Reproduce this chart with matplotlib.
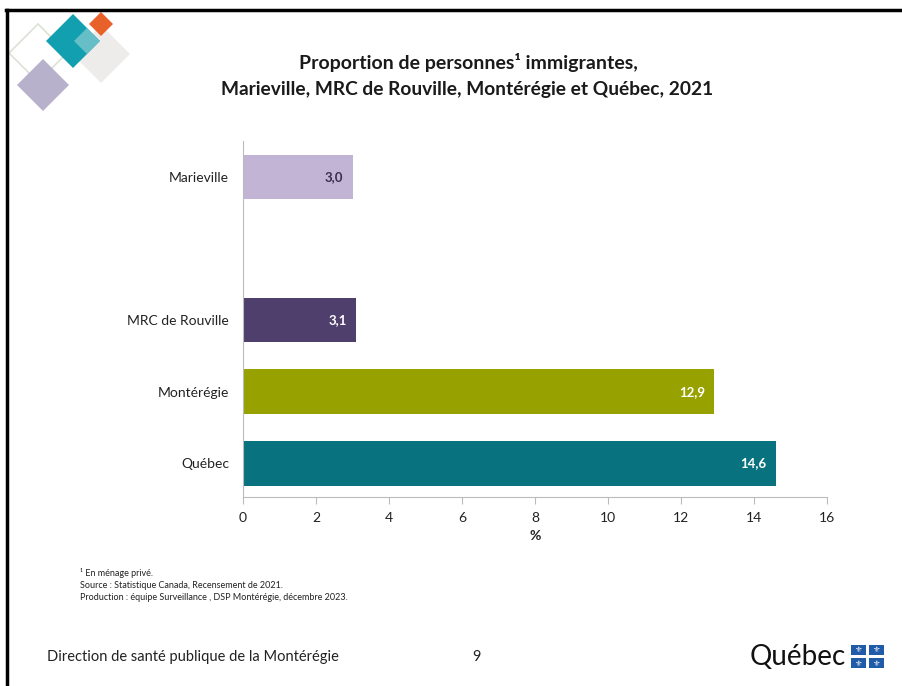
import matplotlib
matplotlib.use("Agg")
import matplotlib.pyplot as plt
from matplotlib.patches import Polygon, Rectangle

plt.rcParams['font.family'] = ['Lato', 'DejaVu Sans']

# data
regions = ["Québec", "Montérégie", "MRC de Rouville", "", "Marieville"]
values = [14.6, 12.9, 3.1, None, 3.0]
colors = ["#08737F", "#97A200", "#4F3F6C", None, "#C1B4D4"]
label_colors = ["white", "white", "white", None, "#3A2E50"]
xticks = [0, 2, 4, 6, 8, 10, 12, 14, 16]

W, H = 902, 686
fig = plt.figure(figsize=(W / 100, H / 100), dpi=100)
fig.patch.set_facecolor("white")


def fx(px):
    return px / W


def fy(py):
    return 1 - py / H


# slide border (top and left)
fig.add_artist(plt.Line2D([fx(6), 1], [fy(10), fy(10)], color="black", lw=2.5))
fig.add_artist(plt.Line2D([fx(7), fx(7)], [fy(10), 0], color="black", lw=2.5))


def diamond(cx, cy, hd, **kw):
    pts = [(fx(cx), fy(cy - hd)), (fx(cx + hd), fy(cy)),
           (fx(cx), fy(cy + hd)), (fx(cx - hd), fy(cy))]
    fig.add_artist(Polygon(pts, closed=True, transform=fig.transFigure, **kw))


# decorative logo top-left
diamond(38, 53, 29, fill=False, edgecolor="#DCE2D6", lw=1.2)
diamond(101, 54, 29, facecolor="#EEECEB", edgecolor="none")
diamond(43, 85, 26, facecolor="#B8B1CC", edgecolor="none")
diamond(73, 41, 27, facecolor="#12A0B0", edgecolor="none")
diamond(101, 24, 12, facecolor="#E8602A", edgecolor="none")
diamond(87, 41, 13, facecolor="#7CC6CE", edgecolor="none", alpha=0.8)

# title
fig.text(fx(468), fy(62), "Proportion de personnes¹ immigrantes,", ha="center", va="center",
         fontsize=14, fontweight="bold", color="#1a1a1a")
fig.text(fx(467), fy(89), "Marieville, MRC de Rouville, Montérégie et Québec, 2021", ha="center",
         va="center", fontsize=13.8, fontweight="bold", color="#1a1a1a")

ax = fig.add_axes([fx(243), fy(497), fx(827) - fx(243), fy(141) - fy(497)])
for i, (v, c) in enumerate(zip(values, colors)):
    if v is None:
        continue
    ax.barh(i, v, height=0.62, color=c)
    ax.text(v - 0.25, i, f"{v:.1f}".replace(".", ","), ha="right", va="center",
            fontsize=9.5, fontweight="bold", color=label_colors[i])

ax.set_xlim(0, 16)
ax.set_ylim(-0.47, len(regions) - 0.5)
ax.set_xticks(xticks)
ax.set_xticklabels([str(t) for t in xticks], fontsize=10, color="#222222")
ax.set_yticks(range(len(regions)))
ax.set_yticklabels(regions, fontsize=10, color="#222222")
ax.tick_params(axis="y", length=0, pad=10)
ax.tick_params(axis="x", length=5, color="#BBBBBB", pad=6)
ax.set_xlabel("%", fontsize=10, fontweight="bold", color="#222222", labelpad=4)
for s in ["top", "right"]:
    ax.spines[s].set_visible(False)
ax.spines["left"].set_color("#BBBBBB")
ax.spines["bottom"].set_color("#BBBBBB")

# footnotes
notes = ["¹ En ménage privé.",
         "Source : Statistique Canada, Recensement de 2021.",
         "Production : équipe Surveillance , DSP Montérégie, décembre 2023."]
for k, n in enumerate(notes):
    fig.text(fx(80), fy(573 + 12 * k), n, ha="left", va="center", fontsize=6.5, color="#222222")

# footer
fig.text(fx(47), fy(657), "Direction de santé publique de la Montérégie", ha="left", va="center",
         fontsize=10.5, color="#222222")
fig.text(fx(476), fy(657), "9", ha="center", va="center", fontsize=10.5, color="#222222")
fig.text(fx(846), fy(657), "Québec", ha="right", va="center", fontsize=20, color="#111111")
for (x0, y0) in [(851, 645), (869, 645), (851, 658), (869, 658)]:
    fig.add_artist(Rectangle((fx(x0), fy(y0 + 10)), fx(15), 10 / H, transform=fig.transFigure,
                             facecolor="#1F5BA8", edgecolor="none"))
    fig.text(fx(x0 + 7.5), fy(y0 + 5), "⚜", ha="center", va="center", fontsize=6,
             color="white", family=["DejaVu Sans"])

fig.savefig("out.png", dpi=100)
